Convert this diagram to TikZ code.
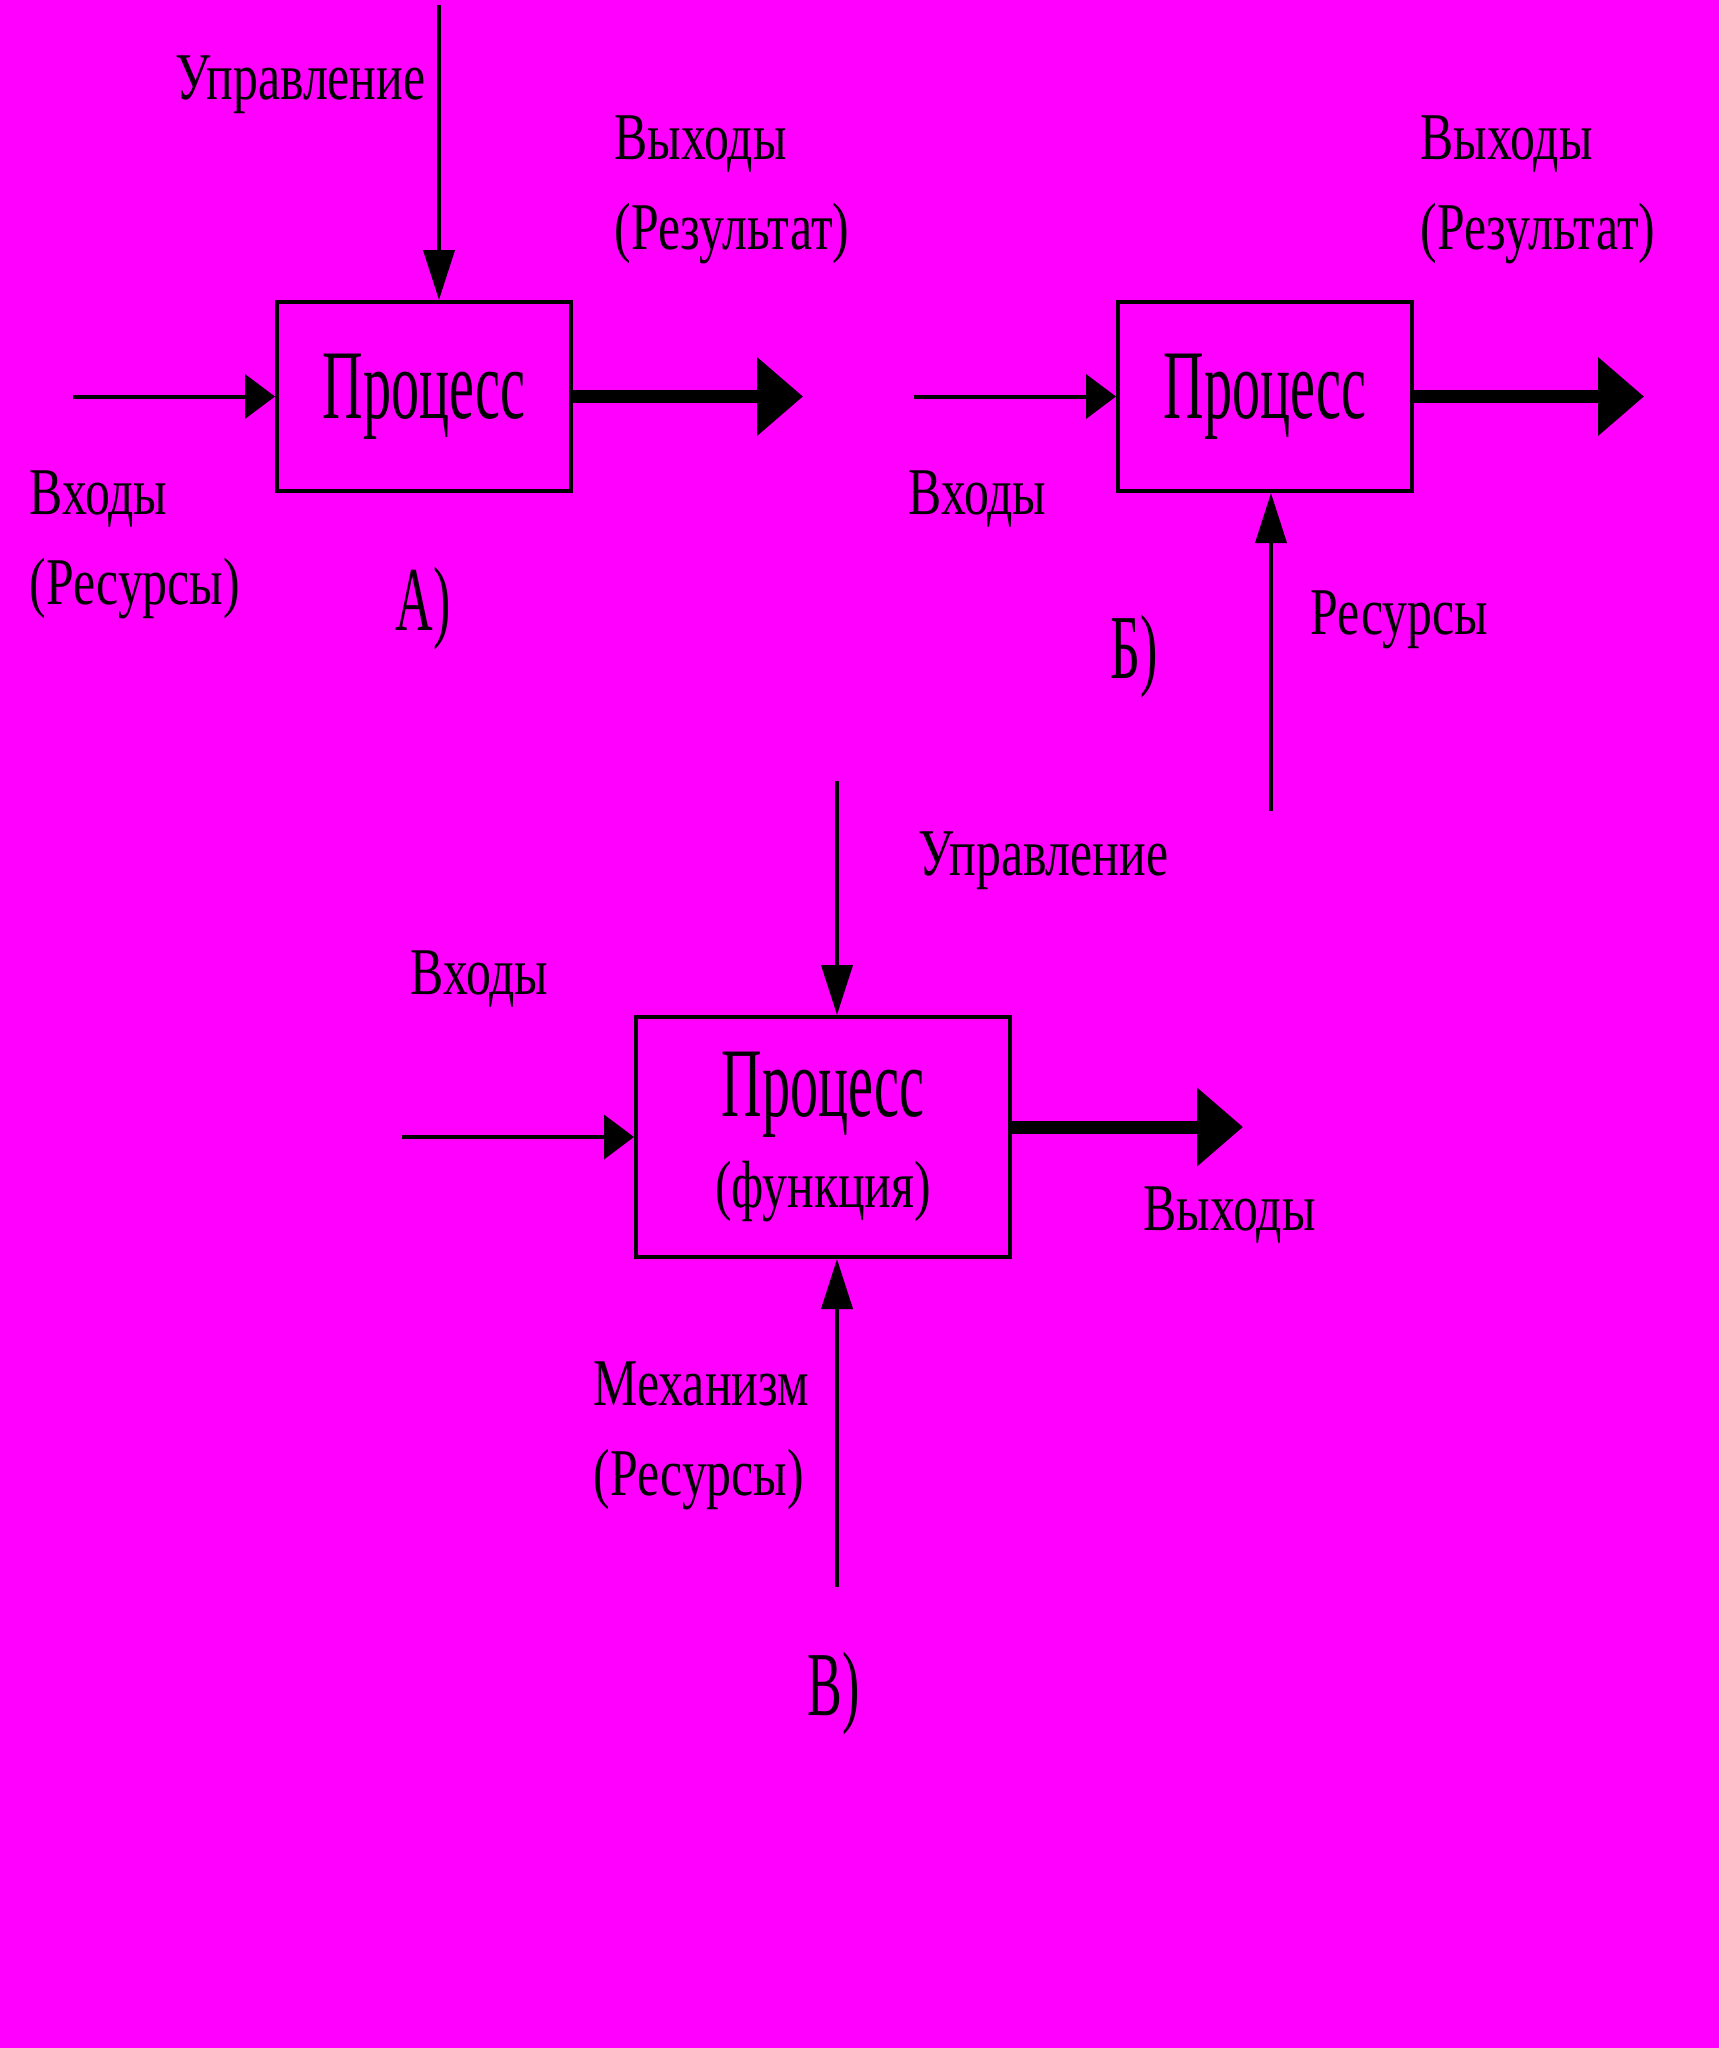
\documentclass[tikz,border=0pt]{standalone}
\usepackage{fontspec}
\setmainfont{Liberation Serif}[FakeStretch=0.57]
\newfontfamily\lblfont{Liberation Serif}[FakeStretch=0.745]
\usepackage{xcolor}
\usetikzlibrary{arrows.meta,calc}

\begin{document}
\begin{tikzpicture}
    \definecolor{mybg}{RGB}{255,0,255}
    \tikzstyle{proc}=[rectangle,draw,line width=0.04cm,align=center,inner sep=0pt,font=\fontsize{28pt}{26pt}\selectfont]  % 过程块
    \tikzstyle{lbl}=[inner sep=0pt,align=left,font=\lblfont\fontsize{19pt}{25.6pt}\selectfont]  % 标签
    \tikzstyle{tag}=[inner sep=0pt,font=\fontsize{26pt}{26pt}\selectfont]  % 图号
    \tikzstyle{hthin}=[line width=0.04cm,-{Triangle[length=0.30cm,width=0.44cm]}]  % 水平细箭头
    \tikzstyle{vthin}=[line width=0.04cm,-{Triangle[length=0.50cm,width=0.31cm]}]  % 竖直细箭头
    \tikzstyle{thick}=[line width=0.13cm,-{Triangle[length=0.46cm,width=0.76cm]}]  % 粗箭头

    % 背景
    \fill[mybg] (0,0) rectangle (17.19,-20.48);
    \useasboundingbox (0,0) rectangle (17.19,-20.48);

    % A)
    \node[proc,minimum width=2.94cm,minimum height=1.89cm](boxA) at (4.24,-3.965){Процесс};
    \coordinate (ctrlA) at (4.39,-0.05);
    \coordinate (inA) at (0.73,-3.965);
    \coordinate (outA) at (8.03,-3.965);
    \node[lbl,anchor=north east](ctrlAl) at (4.26,-0.55){Управление};
    \node[lbl,anchor=north west](outAl) at (6.14,-1.15){Выходы\\(Результат)};
    \node[lbl,anchor=north west](inAl) at (0.29,-4.70){Входы\\(Ресурсы)};
    \node[tag](tagA) at (4.23,-6.09){А)};
    \draw[vthin](ctrlA)--(ctrlA |- boxA.north);
    \draw[hthin](inA)--(boxA.west);
    \draw[thick](boxA.east)--(outA);

    % Б)
    \node[proc,minimum width=2.94cm,minimum height=1.89cm](boxB) at (12.65,-3.965){Процесс};
    \coordinate (inB) at (9.14,-3.965);
    \coordinate (outB) at (16.44,-3.965);
    \coordinate (resB) at (12.71,-8.11);
    \node[lbl,anchor=north west](outBl) at (14.20,-1.15){Выходы\\(Результат)};
    \node[lbl,anchor=north west](inBl) at (9.08,-4.70){Входы};
    \node[lbl,anchor=north west](resBl) at (13.10,-5.90){Ресурсы};
    \node[tag](tagB) at (11.34,-6.57){Б)};
    \draw[hthin](inB)--(boxB.west);
    \draw[thick](boxB.east)--(outB);
    \draw[vthin](resB)--(resB |- boxB.south);

    % В)
    \node[proc,minimum width=3.74cm,minimum height=2.40cm](boxV) at (8.23,-11.37){Процесс\\{\lblfont\fontsize{19pt}{26pt}\selectfont (функция)}};
    \coordinate (ctrlV) at (8.37,-7.81);
    \coordinate (inV) at (4.02,-11.37);
    \coordinate (outV) at (12.43,-11.27);
    \coordinate (mechV) at (8.37,-15.87);
    \node[lbl,anchor=north west](ctrlVl) at (9.18,-8.31){Управление};
    \node[lbl,anchor=north west](inVl) at (4.10,-9.50){Входы};
    \node[lbl,anchor=north west](outVl) at (11.43,-11.86){Выходы};
    \node[lbl,anchor=north west](mechVl) at (5.93,-13.61){Механизм\\(Ресурсы)};
    \node[tag](tagV) at (8.34,-16.94){В)};
    \draw[vthin](ctrlV)--(ctrlV |- boxV.north);
    \draw[hthin](inV)--(boxV.west);
    \draw[thick](boxV.east |- outV)--(outV);
    \draw[vthin](mechV)--(mechV |- boxV.south);
\end{tikzpicture}
\end{document}
